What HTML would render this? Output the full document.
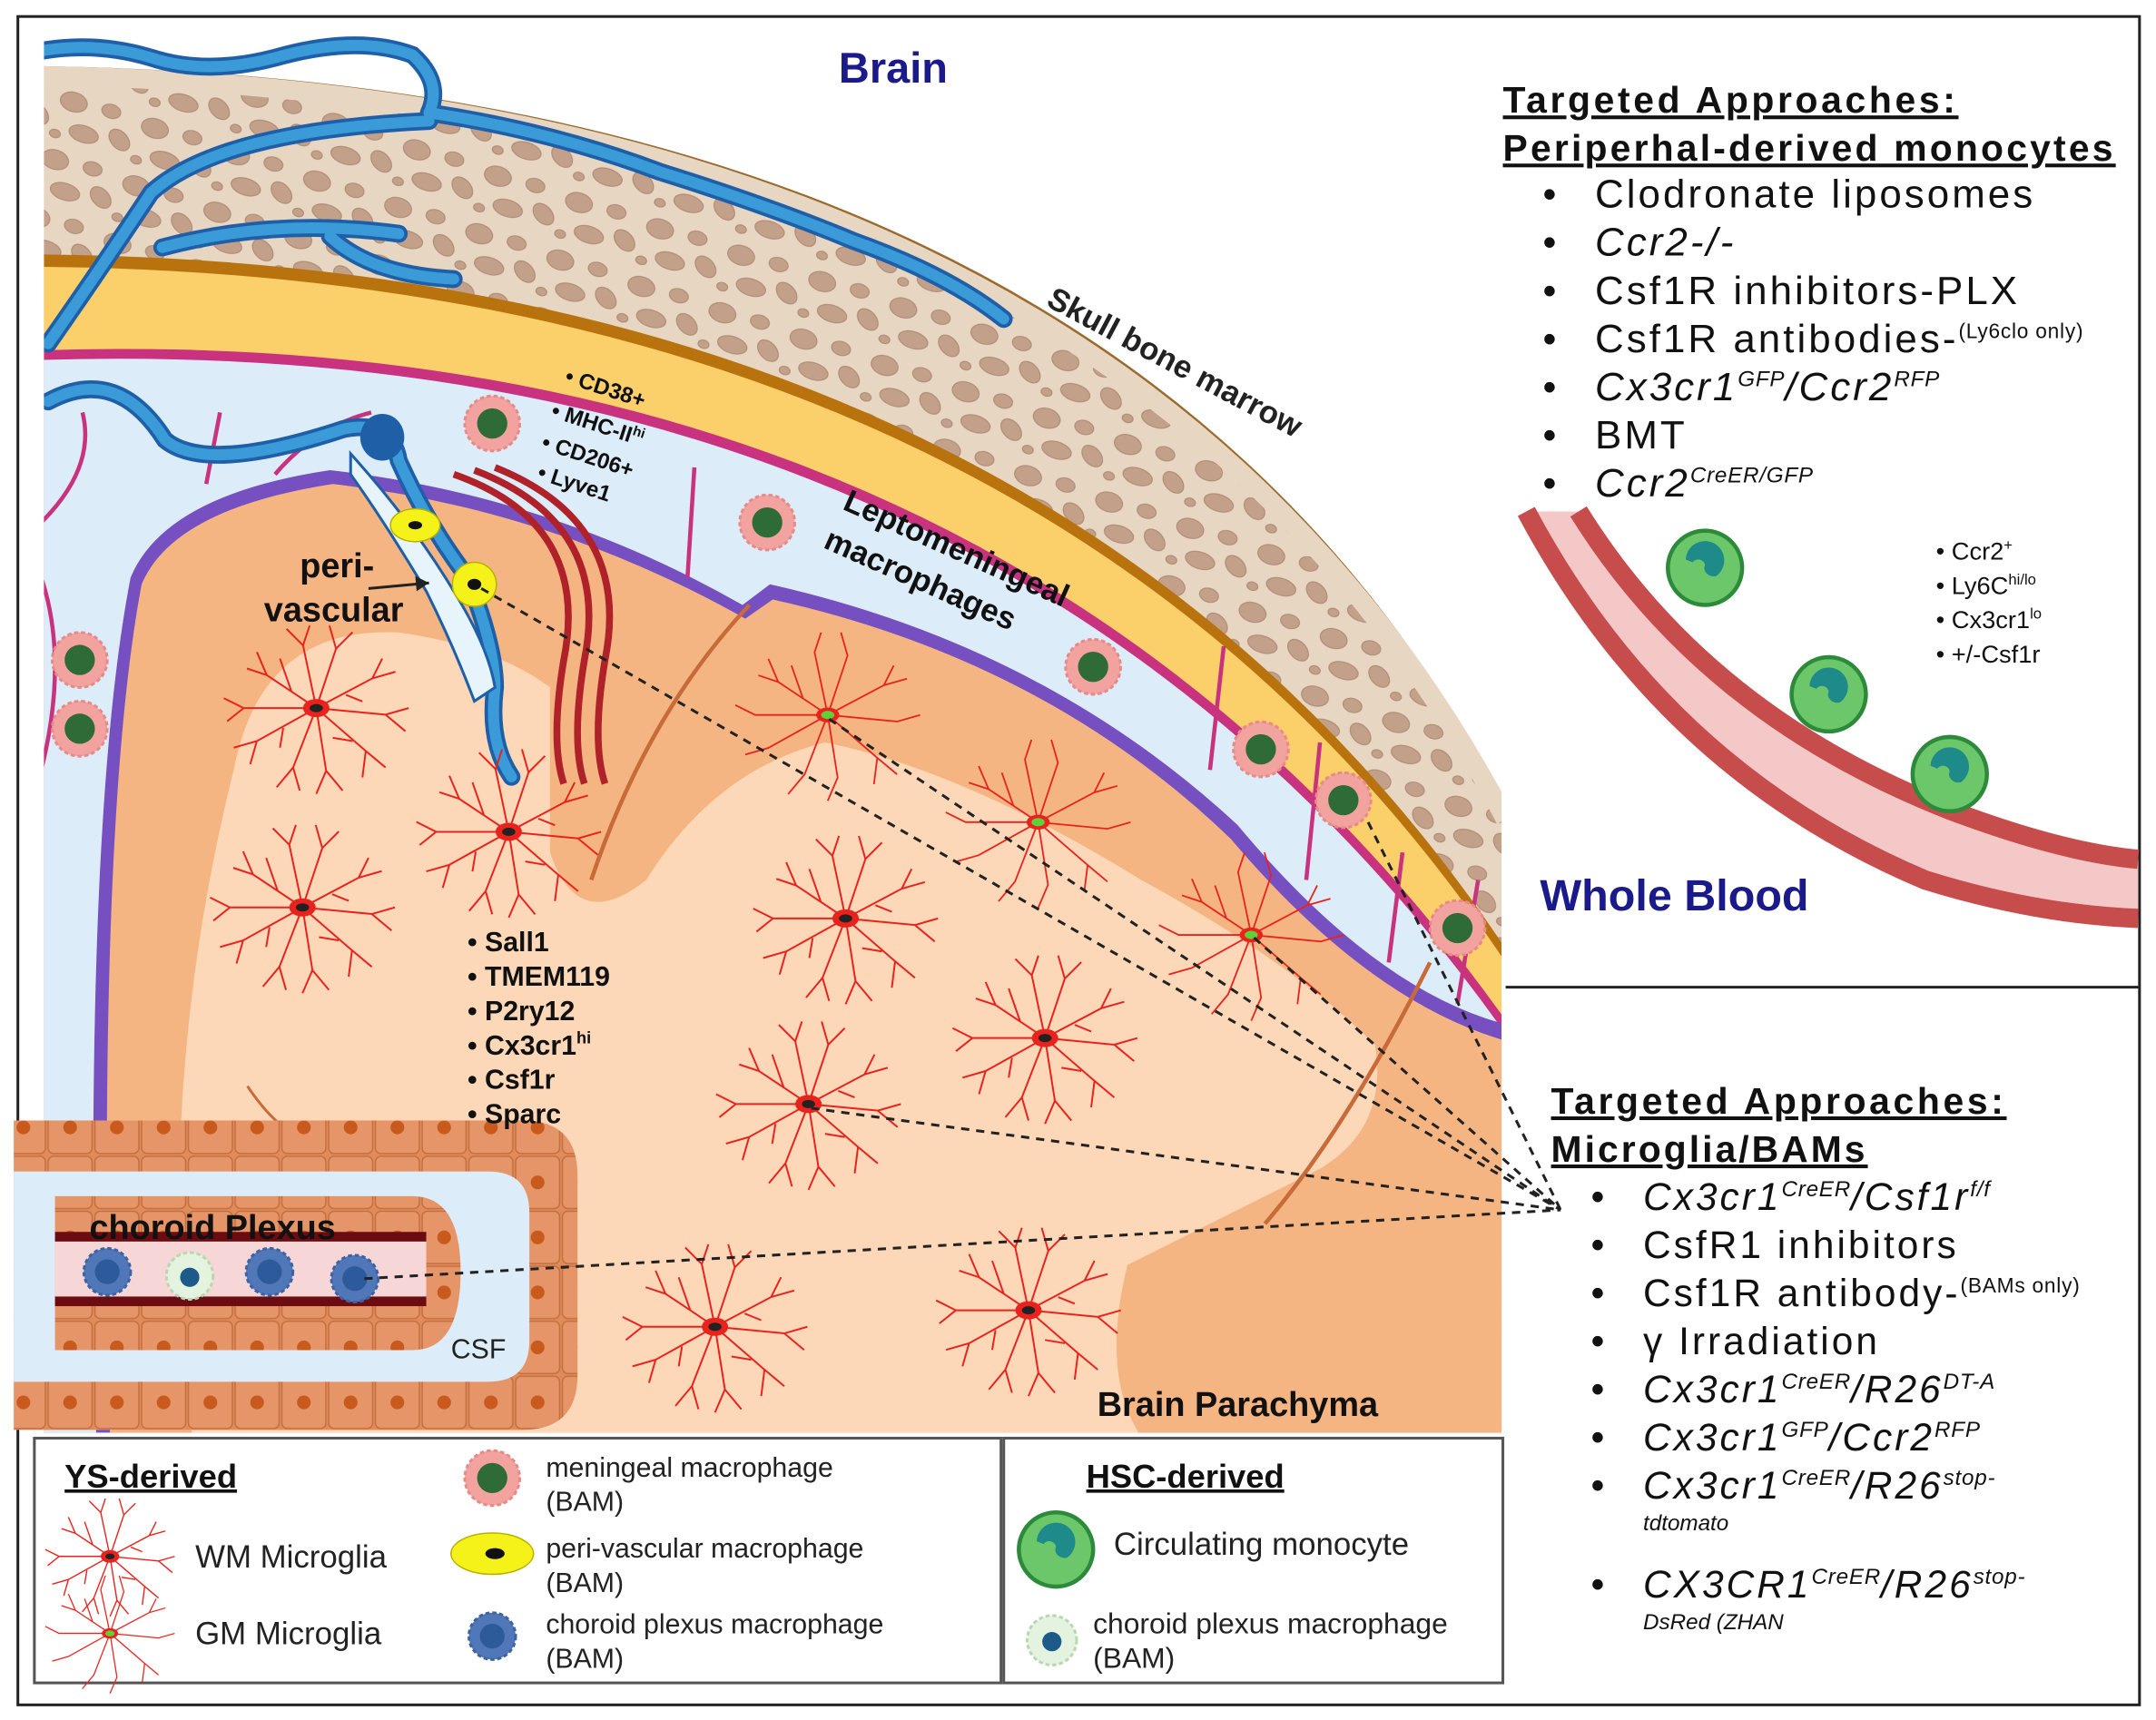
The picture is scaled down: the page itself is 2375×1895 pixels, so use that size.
<!DOCTYPE html>
<html><head><meta charset="utf-8"><style>
html,body{margin:0;padding:0;background:#fff}
svg{display:block}
text{font-family:"Liberation Sans","DejaVu Sans",sans-serif}
</style></head><body>
<svg width="2375" height="1895" viewBox="0 0 1568 1251" preserveAspectRatio="none" xmlns="http://www.w3.org/2000/svg">
<defs>
<g id="mg"><g transform="scale(1.2)">
<g stroke="#e8231e" stroke-width="1.1" fill="none">
<path d="M0,0 L-30,-20 L-42,-24 M-30,-20 L-36,-34 M-15,-10 L-22,-30 M0,0 L-8,-38 L-4,-50 M-8,-38 L-18,-48 M0,0 L12,-36 L8,-50 M12,-36 L22,-46 M0,0 L34,-18 L48,-22 M34,-18 L40,-30 M0,0 L42,4 L56,0 M42,4 L54,14 M0,0 L30,26 L42,36 M30,26 L28,42 M0,0 L6,38 L0,52 M6,38 L16,50 M0,0 L-14,36 L-24,48 M-14,36 L-10,50 M0,0 L-36,20 L-50,24 M-36,20 L-40,34 M0,0 L-44,0 L-56,-6 M-44,0 L-54,8 M18,-8 L28,-4 M-20,12 L-22,24 M10,18 L22,20"/>
</g>
<ellipse cx="0" cy="0" rx="8" ry="5.5" fill="#e8231e"/>
<ellipse cx="0" cy="0" rx="4" ry="2.5" fill="#222"/>
</g></g>
<g id="gm"><g transform="scale(1.2)">
<g stroke="#e8231e" stroke-width="1" fill="none">
<path d="M0,0 L-30,-20 L-42,-24 M-30,-20 L-36,-34 M0,0 L-8,-38 L-4,-50 M0,0 L12,-36 L8,-50 M0,0 L34,-18 L48,-22 M0,0 L42,4 L56,0 M0,0 L30,26 L42,36 M0,0 L6,38 L0,52 M0,0 L-14,36 L-24,48 M0,0 L-36,20 L-50,24 M0,0 L-44,0 L-56,-6 M-15,-10 L-22,-30 M34,-18 L40,-30 M30,26 L28,42"/>
</g>
<ellipse cx="0" cy="0" rx="7" ry="4.5" fill="#e8231e"/>
<ellipse cx="0" cy="0" rx="4" ry="2.5" fill="#5fd03a"/>
</g></g>
<g id="mm">
<circle r="20" fill="#f2a3a0" stroke="#e88a86" stroke-width="2" stroke-dasharray="3 2"/>
<circle r="11" fill="#2e6b36"/>
</g>
<g id="cp">
<circle r="17" fill="#5078b8" stroke="#3d63a3" stroke-width="2" stroke-dasharray="3 2"/>
<circle r="9" fill="#2d5a9a"/>
</g>
<g id="mono">
<circle r="27" fill="#6cc66a" stroke="#2c8a3a" stroke-width="3"/>
<path d="M-14,-4 a14,14 0 1,1 22,12 a7,6 0 0,1 -8,-8 a5,5 0 0,0 -9,-2 z" fill="#1e8a8a" transform="translate(0,-2)"/>
</g>
<pattern id="cells" width="34" height="40" patternUnits="userSpaceOnUse">
<rect width="34" height="40" fill="#e08b5c"/>
<rect x="1" y="1" width="32" height="38" rx="4" fill="#e59567" stroke="#c47040" stroke-width="1"/>
<circle cx="17" cy="20" r="5" fill="#c85a1e"/>
</pattern>
<pattern id="bone" width="62" height="44" patternUnits="userSpaceOnUse" patternTransform="rotate(18)">
<rect width="62" height="44" fill="#e7d6c2"/>
<g fill="#c3a08a" stroke="#b08d78" stroke-width="0.8">
<ellipse cx="12" cy="10" rx="10" ry="7"/>
<ellipse cx="40" cy="8" rx="7" ry="5"/>
<ellipse cx="52" cy="26" rx="9" ry="6" transform="rotate(30 52 26)"/>
<ellipse cx="26" cy="30" rx="11" ry="6"/>
<ellipse cx="6" cy="36" rx="4" ry="3"/>
</g>
</pattern>
</defs>

<rect x="0" y="0" width="1568" height="1251" fill="#fff"/>
<rect x="13" y="12" width="1543" height="1228" fill="none" stroke="#222" stroke-width="2"/>

<clipPath id="brainclip"><rect x="32" y="20" width="1060" height="1022"/></clipPath>
<g clip-path="url(#brainclip)">
<path d="M25,48 Q820,58 1095,585 L1095,1045 L25,1045 Z" fill="#9a6a2e"/>
<path d="M25,54 Q815,66 1095,596 L1095,1045 L25,1045 Z" fill="url(#bone)"/>
<path d="M25,55 Q815,66 1095,596" fill="none" stroke="#e7d6c2" stroke-width="14"/>
<path d="M25,185 Q760,190 1095,690 L1095,1045 L25,1045 Z" fill="#b8730f"/>
<path d="M25,194 Q760,199 1095,700 L1095,1045 L25,1045 Z" fill="#fbcf6a"/>
<path d="M25,255 Q730,230 1095,742 L1095,1045 L25,1045 Z" fill="#c8327e"/>
<path d="M25,262 Q730,238 1095,752 L1095,1045 L25,1045 Z" fill="#dcecf8"/>
<path d="M70,1045 Q60,600 95,420 Q120,360 240,342 Q400,360 540,440 L560,425 Q760,470 900,600 Q1000,720 1095,745 L1095,1045 Z" fill="#7650c0"/>
<path d="M80,1045 Q70,600 103,425 Q126,370 242,352 Q400,370 542,450 L562,436 Q760,480 895,610 Q995,728 1095,757 L1095,1045 Z" fill="#f5b582"/>
<path d="M140,1045 Q110,800 170,560 Q190,455 290,460 Q360,470 400,500 L400,620 Q420,680 470,640 Q520,560 600,540 Q700,560 830,640 Q940,700 1000,760 Q1010,820 960,850 Q880,890 820,920 Q800,1000 830,1045 Z" fill="#fcd8b8"/>
<path d="M430,640 Q470,520 545,440" stroke="#c86a3a" stroke-width="3" fill="none"/>
<path d="M920,890 Q980,820 1040,700" stroke="#c86a3a" stroke-width="3" fill="none"/>
<path d="M180,790 Q220,850 260,820" stroke="#c86a3a" stroke-width="2" fill="none"/>
<g stroke="#c8327e" stroke-width="3" fill="none">
<path d="M30,380 Q70,340 60,300"/><path d="M30,560 Q50,480 30,420"/><path d="M150,352 L160,300"/><path d="M200,345 Q230,310 270,300"/>
<path d="M500,420 L505,340"/><path d="M880,560 L890,470"/><path d="M950,640 L960,540"/><path d="M1010,700 L1020,620"/><path d="M1060,730 L1075,640"/>
</g>
<g fill="none" stroke-linecap="round">
<g stroke="#1f5fa8" stroke-width="13">
<path d="M30,37 Q70,30 110,42 Q150,55 200,42 Q260,25 300,40 Q322,60 312,82"/>
<path d="M312,82 Q400,95 480,125 Q560,150 620,175 Q690,200 730,232"/>
<path d="M35,250 Q70,200 110,140 Q160,95 312,88"/>
<path d="M118,180 Q200,158 290,170"/>
<path d="M240,172 Q270,200 330,203"/>
<path d="M35,292 Q85,265 120,320 Q150,345 250,312 Q285,305 290,335 Q310,380 340,420 Q360,470 360,500 Q355,540 372,565"/>
</g>
<g stroke="#3a9bd8" stroke-width="8">
<path d="M30,37 Q70,30 110,42 Q150,55 200,42 Q260,25 300,40 Q322,60 312,82"/>
<path d="M312,82 Q400,95 480,125 Q560,150 620,175 Q690,200 730,232"/>
<path d="M35,250 Q70,200 110,140 Q160,95 312,88"/>
<path d="M118,180 Q200,158 290,170"/>
<path d="M240,172 Q270,200 330,203"/>
<path d="M35,292 Q85,265 120,320 Q150,345 250,312 Q285,305 290,335 Q310,380 340,420 Q360,470 360,500 Q355,540 372,565"/>
</g>
</g>
<ellipse cx="278" cy="318" rx="16" ry="17" fill="#1f5fa8"/>
<path d="M255,330 Q300,380 330,430 Q355,470 360,500 L345,510 Q330,470 310,430 Q280,380 255,345 Z" fill="#e8f4fb" stroke="#1f5fa8" stroke-width="2"/>
<g fill="none" stroke="#b0222a" stroke-width="5">
<path d="M330,345 Q430,380 410,480 Q400,540 410,570"/>
<path d="M345,342 Q445,380 425,480 Q415,540 425,570"/>
<path d="M360,340 Q460,380 440,480 Q430,540 440,570"/>
</g>
<ellipse cx="302" cy="382" rx="18" ry="12" fill="#f5f21a" stroke="#b8b000"/><ellipse cx="302" cy="382" rx="5" ry="3" fill="#111"/>
<ellipse cx="345" cy="425" rx="16" ry="16" fill="#f5f21a" stroke="#b8b000"/><ellipse cx="345" cy="425" rx="5" ry="4" fill="#111"/>
<use href="#mm" x="358" y="308"/><use href="#mm" x="558" y="380"/><use href="#mm" x="795" y="485"/>
<use href="#mm" x="917" y="545"/><use href="#mm" x="977" y="582"/><use href="#mm" x="1060" y="675"/>
<use href="#mm" x="58" y="480"/><use href="#mm" x="58" y="530"/>
<use href="#mg" x="230" y="515"/><use href="#mg" x="370" y="605"/><use href="#mg" x="220" y="660"/>
<use href="#mg" x="615" y="668"/><use href="#mg" x="760" y="755"/><use href="#mg" x="588" y="803"/>
<use href="#mg" x="520" y="965"/><use href="#mg" x="748" y="953"/>
<use href="#gm" x="602" y="520"/><use href="#gm" x="755" y="598"/><use href="#gm" x="910" y="680"/>
</g>

<path d="M10,815 H380 Q420,815 420,855 V1000 Q420,1040 380,1040 H10 Z" fill="url(#cells)"/>
<path d="M10,852 H355 Q385,852 385,882 V975 Q385,1005 355,1005 H10 Z" fill="#dcecf8"/>
<path d="M40,870 H300 Q335,870 335,925 Q335,982 300,982 H40 Z" fill="url(#cells)"/>
<rect x="40" y="898" width="270" height="50" fill="#f7d6d8"/>
<rect x="40" y="896" width="270" height="7" fill="#6a0c12"/>
<rect x="40" y="943" width="270" height="7" fill="#6a0c12"/>
<use href="#cp" x="78" y="925"/><use href="#cp" x="196" y="925"/><use href="#cp" x="258" y="930"/>
<circle cx="138" cy="928" r="17" fill="#e3f3df" stroke="#b9d8b0" stroke-width="2" stroke-dasharray="3 2"/><circle cx="138" cy="929" r="7" fill="#1d5a8a"/>
<text x="65" y="901" font-size="25" font-weight="bold" fill="#111">choroid Plexus</text>
<text x="328" y="988" font-size="20" fill="#222">CSF</text>

<g stroke="#222" stroke-width="2" stroke-dasharray="6 5" fill="none">
<path d="M350,428 L1135,880"/><path d="M603,523 L1135,880"/><path d="M590,806 L1135,880"/>
<path d="M912,682 L1135,880"/><path d="M995,598 L1135,880"/><path d="M265,930 L1135,880"/>
</g>

<text x="610" y="60" font-size="31" font-weight="bold" fill="#1a1a8a">Brain</text>
<text x="760" y="222" font-size="23" font-weight="bold" fill="#222" transform="rotate(28 760 222)">Skull bone marrow</text>
<text x="612" y="370" font-size="23" font-weight="bold" fill="#111" transform="rotate(24 612 370)">Leptomeningeal</text>
<text x="598" y="398" font-size="23" font-weight="bold" fill="#111" transform="rotate(24 598 398)">macrophages</text>
<g font-size="16" font-weight="bold" fill="#111">
<text x="410" y="278" transform="rotate(18 410 278)">• CD38+</text>
<text x="400" y="303" transform="rotate(18 400 303)">• MHC-II<tspan font-size="10" dy="-6">hi</tspan></text>
<text x="393" y="326" transform="rotate(18 393 326)">• CD206+</text>
<text x="390" y="348" transform="rotate(18 390 348)">• Lyve1</text>
</g>
<text x="218" y="420" font-size="25" font-weight="bold" fill="#111">peri-</text>
<text x="192" y="452" font-size="25" font-weight="bold" fill="#111">vascular</text>
<path d="M268,428 L312,424" stroke="#222" stroke-width="2"/><path d="M312,424 L302,419 L303,430 Z" fill="#222"/>
<g font-size="20" font-weight="bold" fill="#111">
<text x="340" y="692">•  Sall1</text>
<text x="340" y="717">•  TMEM119</text>
<text x="340" y="742">•  P2ry12</text>
<text x="340" y="767">•  Cx3cr1<tspan font-size="12" dy="-8">hi</tspan></text>
<text x="340" y="792">•  Csf1r</text>
<text x="340" y="817">•  Sparc</text>
</g>
<text x="798" y="1030" font-size="25" font-weight="bold" fill="#111">Brain Parachyma</text>

<g fill="#111">
<text x="1093" y="82" font-size="27" font-weight="bold" letter-spacing="2.4" text-decoration="underline">Targeted Approaches:</text>
<text x="1093" y="117" font-size="27" font-weight="bold" letter-spacing="2.1" text-decoration="underline">Periperhal-derived monocytes</text>
<g font-size="28">
<text x="1122" y="151">•</text><text x="1122" y="186">•</text><text x="1122" y="221">•</text><text x="1122" y="256">•</text>
<text x="1122" y="291">•</text><text x="1122" y="326">•</text><text x="1122" y="361">•</text>
</g>
<g font-size="29" letter-spacing="2">
<text x="1160" y="151">Clodronate liposomes</text>
<text x="1160" y="186" font-style="italic">Ccr2-/-</text>
<text x="1160" y="221">Csf1R inhibitors-PLX</text>
<text x="1160" y="256">Csf1R antibodies-<tspan font-size="15" letter-spacing="0.5" dy="-10">(Ly6clo only)</tspan></text>
<text x="1160" y="291" font-style="italic">Cx3cr1<tspan font-size="16" letter-spacing="0.5" dy="-10">GFP</tspan><tspan dy="10">/Ccr2</tspan><tspan font-size="16" letter-spacing="0.5" dy="-10">RFP</tspan></text>
<text x="1160" y="326">BMT</text>
<text x="1160" y="361" font-style="italic">Ccr2<tspan font-size="16" letter-spacing="0.5" dy="-10">CreER/GFP</tspan></text>
</g>
</g>
<path d="M1148,372 Q1240,520 1420,590 Q1500,620 1555,625 L1555,668 Q1480,665 1400,640 Q1210,560 1110,372 Z" fill="#f5c8c8"/>
<path d="M1148,372 Q1240,520 1420,590 Q1500,620 1555,625" stroke="#c74c4c" stroke-width="14" fill="none"/>
<path d="M1110,372 Q1210,560 1400,640 Q1480,665 1555,668" stroke="#c74c4c" stroke-width="14" fill="none"/>
<use href="#mono" x="1240" y="413"/><use href="#mono" x="1330" y="505"/><use href="#mono" x="1418" y="563"/>
<g font-size="18" fill="#111">
<text x="1408" y="407">•  Ccr2<tspan font-size="11" dy="-7">+</tspan></text>
<text x="1408" y="432">•  Ly6C<tspan font-size="11" dy="-7">hi/lo</tspan></text>
<text x="1408" y="457">•  Cx3cr1<tspan font-size="11" dy="-7">lo</tspan></text>
<text x="1408" y="482">•  +/-Csf1r</text>
</g>
<text x="1120" y="662" font-size="32" font-weight="bold" fill="#1a1a8a">Whole Blood</text>
<line x1="1095" y1="718" x2="1556" y2="718" stroke="#222" stroke-width="2"/>

<g fill="#111">
<text x="1128" y="810" font-size="27" font-weight="bold" letter-spacing="2.4" text-decoration="underline">Targeted Approaches:</text>
<text x="1128" y="845" font-size="27" font-weight="bold" letter-spacing="2" text-decoration="underline">Microglia/BAMs</text>
<g font-size="28">
<text x="1157" y="880">•</text><text x="1157" y="915">•</text><text x="1157" y="950">•</text><text x="1157" y="985">•</text>
<text x="1157" y="1020">•</text><text x="1157" y="1055">•</text><text x="1157" y="1090">•</text><text x="1157" y="1162">•</text>
</g>
<g font-size="28" letter-spacing="2">
<text x="1195" y="880" font-style="italic">Cx3cr1<tspan font-size="16" letter-spacing="0.5" dy="-10">CreER</tspan><tspan dy="10">/Csf1r</tspan><tspan font-size="16" letter-spacing="0.5" dy="-10">f/f</tspan></text>
<text x="1195" y="915">CsfR1 inhibitors</text>
<text x="1195" y="950">Csf1R antibody-<tspan font-size="15" letter-spacing="0.5" dy="-10">(BAMs only)</tspan></text>
<text x="1195" y="985">γ Irradiation</text>
<text x="1195" y="1020" font-style="italic">Cx3cr1<tspan font-size="16" letter-spacing="0.5" dy="-10">CreER</tspan><tspan dy="10">/R26</tspan><tspan font-size="16" letter-spacing="0.5" dy="-10">DT-A</tspan></text>
<text x="1195" y="1055" font-style="italic">Cx3cr1<tspan font-size="16" letter-spacing="0.5" dy="-10">GFP</tspan><tspan dy="10">/Ccr2</tspan><tspan font-size="16" letter-spacing="0.5" dy="-10">RFP</tspan></text>
<text x="1195" y="1090" font-style="italic">Cx3cr1<tspan font-size="16" letter-spacing="0.5" dy="-10">CreER</tspan><tspan dy="10">/R26</tspan><tspan font-size="16" letter-spacing="0.5" dy="-10">stop-</tspan></text>
<text x="1195" y="1162" font-style="italic">CX3CR1<tspan font-size="16" letter-spacing="0.5" dy="-10">CreER</tspan><tspan dy="10">/R26</tspan><tspan font-size="16" letter-spacing="0.5" dy="-10">stop-</tspan></text>
</g>
<text x="1195" y="1113" font-size="16" font-style="italic">tdtomato</text>
<text x="1195" y="1185" font-size="16" font-style="italic">DsRed (ZHAN</text>
</g>

<rect x="25" y="1046" width="703" height="178" fill="#fff" stroke="#555" stroke-width="2"/>
<rect x="730" y="1046" width="363" height="178" fill="#fff" stroke="#555" stroke-width="2"/>
<text x="47" y="1082" font-size="24" font-weight="bold" text-decoration="underline" fill="#111">YS-derived</text>
<g transform="translate(80,1132) scale(0.7)"><use href="#mg"/></g>
<g transform="translate(80,1188) scale(0.7)"><use href="#gm"/></g>
<text x="142" y="1140" font-size="23" fill="#222">WM Microglia</text>
<text x="142" y="1196" font-size="23" fill="#222">GM Microglia</text>
<use href="#mm" x="358" y="1075"/>
<ellipse cx="358" cy="1130" rx="30" ry="15" fill="#f5f21a" stroke="#b8b000"/><ellipse cx="360" cy="1130" rx="7" ry="4" fill="#111"/>
<use href="#cp" x="358" y="1190"/>
<g font-size="20" fill="#222">
<text x="397" y="1074">meningeal macrophage</text><text x="397" y="1099">(BAM)</text>
<text x="397" y="1133">peri-vascular macrophage</text><text x="397" y="1158">(BAM)</text>
<text x="397" y="1188">choroid plexus macrophage</text><text x="397" y="1213">(BAM)</text>
</g>
<text x="790" y="1082" font-size="24" font-weight="bold" text-decoration="underline" fill="#111">HSC-derived</text>
<use href="#mono" x="768" y="1127"/>
<circle cx="765" cy="1193" r="18" fill="#e3f3df" stroke="#b9d8b0" stroke-width="2" stroke-dasharray="3 2"/><circle cx="765" cy="1194" r="7" fill="#1d5a8a"/>
<text x="810" y="1131" font-size="23" fill="#222">Circulating monocyte</text>
<text x="795" y="1188" font-size="21" fill="#222">choroid plexus macrophage</text>
<text x="795" y="1213" font-size="21" fill="#222">(BAM)</text>
</svg>
</body></html>
